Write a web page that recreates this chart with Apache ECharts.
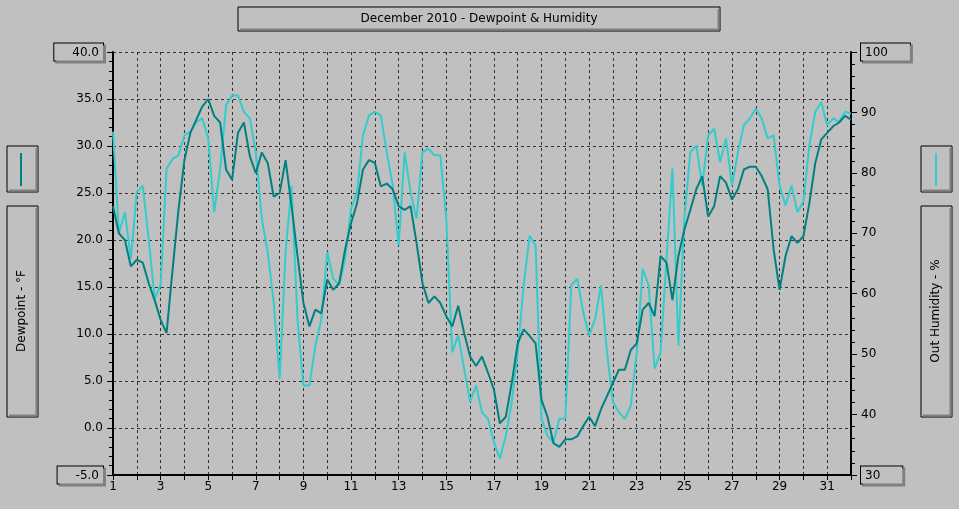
<!DOCTYPE html>
<html><head><meta charset="utf-8">
<script src="https://cdn.jsdelivr.net/npm/echarts@6/dist/echarts.min.js"></script>
<style>html,body{margin:0;padding:0;background:#c0c0c0}#c{width:959px;height:509px}</style>
</head><body><div id="c"></div>
<script>
const title = 'December 2010 - Dewpoint & Humidity';
const dayTicks = [1,3,5,7,9,11,13,15,17,19,21,23,25,27,29,31];
const times = [];
for (let i = 0; i <= 124; i++) times.push(1 + i * 0.25);
const dewpoint = [
 23.6,20.7,20.0,17.2, 17.9,17.6,15.4,13.6, 11.5,10.1,16.8,23.2, 28.5,31.4,32.8,34.2,
 35.0,33.2,32.5,27.5, 26.4,31.4,32.5,28.9, 27.1,29.3,28.2,24.6, 25.0,28.5,23.6,18.3,
 13.3,10.8,12.6,12.2, 15.8,14.7,15.4,19.0, 21.8,23.9,27.5,28.5, 28.2,25.7,26.0,25.4,
 23.6,23.2,23.6,19.7, 15.4,13.3,14.0,13.3, 11.9,10.8,13.0,10.1, 7.6,6.6,7.6,5.9,
 4.1,0.5,1.2,4.8, 9.0,10.5,9.8,9.0, 3.0,1.2,-1.6,-2.0, -1.2,-1.2,-0.9,0.2,
 1.2,0.2,2.0,3.4, 4.8,6.2,6.2,8.3, 9.0,12.6,13.3,11.9, 18.3,17.6,13.6,18.3,
 21.1,23.2,25.4,26.8, 22.5,23.6,26.8,26.1, 24.3,25.4,27.5,27.8, 27.8,26.8,25.4,19.0,
 14.7,18.3,20.4,19.7, 20.4,23.9,28.2,30.7, 31.4,32.1,32.5,33.2, 32.8
];
const humidity = [
 86.8,70.0,73.5,65.8, 76.8,77.9,69.0,59.2, 61.4,80.7,82.3,82.9, 86.2,86.8,88.4,89.0,
 85.7,73.5,80.7,91.2, 92.8,92.8,90.1,89.0, 83.4,72.4,66.9,58.6, 45.9,66.9,77.9,55.8,
 44.8,44.8,51.4,55.8, 66.9,62.5,61.4,65.8, 74.1,76.8,86.2,89.5, 90.1,89.5,83.4,77.9,
 68.0,83.4,76.8,72.4, 83.4,84.0,82.9,82.9, 72.4,50.3,53.1,47.6, 42.1,44.8,40.4,39.3,
 35.4,32.7,36.5,42.1, 50.3,61.4,69.6,68.0, 39.3,36.5,35.4,39.3, 39.3,61.4,62.5,57.0,
 53.1,55.8,61.4,50.3, 42.1,40.4,39.3,41.5, 50.3,64.1,61.4,47.6, 50.3,65.8,80.7,51.4,
 72.4,83.4,84.5,77.9, 86.2,87.3,81.8,85.7, 77.9,83.4,87.9,89.0, 90.6,89.0,85.7,86.2,
 77.9,74.6,77.9,73.5, 75.2,84.5,90.1,91.7, 87.9,89.0,88.4,90.1, 89.8
];
const dewData = times.map((t,i)=>[t,dewpoint[i]]);
const humData = times.map((t,i)=>[t,humidity[i]]);
const F = 'DejaVu Sans';
function box(x,y,w,h){
  return [
    {type:'rect',shape:{x:x,y:y,width:w,height:h},style:{fill:'#c0c0c0',stroke:'#000',lineWidth:1}},
    {type:'polyline',shape:{points:[[x+w-1.5,y+2],[x+w-1.5,y+h-1.5],[x+2,y+h-1.5]]},style:{stroke:'#808080',lineWidth:2,fill:null}}
  ];
}
const chart = echarts.init(document.getElementById('c'));
const g = [];
g.push(...box(238,7,482,24));
g.push({type:'text',x:479,y:19,style:{text:title,font:'12px '+F,fill:'#000',align:'center',verticalAlign:'middle'}});
g.push(...box(7,146,31,46));
g.push({type:'line',shape:{x1:21,y1:153,x2:21,y2:186},style:{stroke:'#008080',lineWidth:2}});
g.push(...box(7,206,31,211));
g.push({type:'text',x:22,y:311,rotation:Math.PI/2,style:{text:'Dewpoint - °F',font:'12px '+F,fill:'#000',align:'center',verticalAlign:'middle'}});
g.push(...box(921,146,31,46));
g.push({type:'line',shape:{x1:936,y1:153,x2:936,y2:186},style:{stroke:'#33cccc',lineWidth:2}});
g.push(...box(921,206,31,211));
g.push({type:'text',x:936,y:311,rotation:Math.PI/2,style:{text:'Out Humidity - %',font:'12px '+F,fill:'#000',align:'center',verticalAlign:'middle'}});
const boxed = {borderColor:'#000',borderWidth:1,padding:[3,4,2,18],backgroundColor:'#c0c0c0',shadowColor:'#808080',shadowOffsetX:2,shadowOffsetY:2};
chart.setOption({
  backgroundColor:'#c0c0c0',
  animation:false,
  graphic:g,
  grid:{left:113,right:108,top:52,bottom:34},
  xAxis:{type:'value',min:1,max:32,interval:1,
    axisLine:{onZero:false,lineStyle:{color:'#000',width:2}},
    axisTick:{length:5,lineStyle:{color:'#000'}},
    axisLabel:{color:'#000',fontFamily:F,fontSize:12,margin:6,
      formatter:v=>dayTicks.includes(v)?String(v):''},
    splitLine:{show:true,lineStyle:{color:'#333',type:[3,3]}}},
  yAxis:[
    {type:'value',min:-5,max:40,interval:5,
     axisLine:{show:true,lineStyle:{color:'#000',width:2}},
     axisTick:{show:true,length:6,lineStyle:{color:'#000'}},
     minorTick:{show:true,splitNumber:5,length:4,lineStyle:{color:'#000'}},
     axisLabel:{color:'#000',fontFamily:F,fontSize:12,margin:10,
       formatter:v=>(v===40||v===-5)?'{b|'+v.toFixed(1)+'}':v.toFixed(1),
       rich:{b:Object.assign({fontFamily:F,fontSize:12,color:'#000'},boxed)}},
     splitLine:{show:true,lineStyle:{color:'#333',type:[3,3]}}},
    {type:'value',min:30,max:100,interval:10,position:'right',
     axisLine:{show:true,lineStyle:{color:'#000',width:2}},
     axisTick:{show:true,length:6,lineStyle:{color:'#000'}},
     minorTick:{show:true,splitNumber:5,length:4,lineStyle:{color:'#000'}},
     axisLabel:{color:'#000',fontFamily:F,fontSize:12,margin:10,
       formatter:v=>(v===100||v===30)?'{b|'+v+'}':String(v),
       rich:{b:Object.assign({},boxed,{fontFamily:F,fontSize:12,color:'#000',padding:[3,22,2,4]})}},
     splitLine:{show:false}}
  ],
  series:[
    {type:'line',name:'Out Humidity',yAxisIndex:1,data:humData,showSymbol:false,
     lineStyle:{color:'#33cccc',width:2},z:2},
    {type:'line',name:'Dewpoint',yAxisIndex:0,data:dewData,showSymbol:false,
     lineStyle:{color:'#008080',width:2},z:3}
  ]
});
</script></body></html>
